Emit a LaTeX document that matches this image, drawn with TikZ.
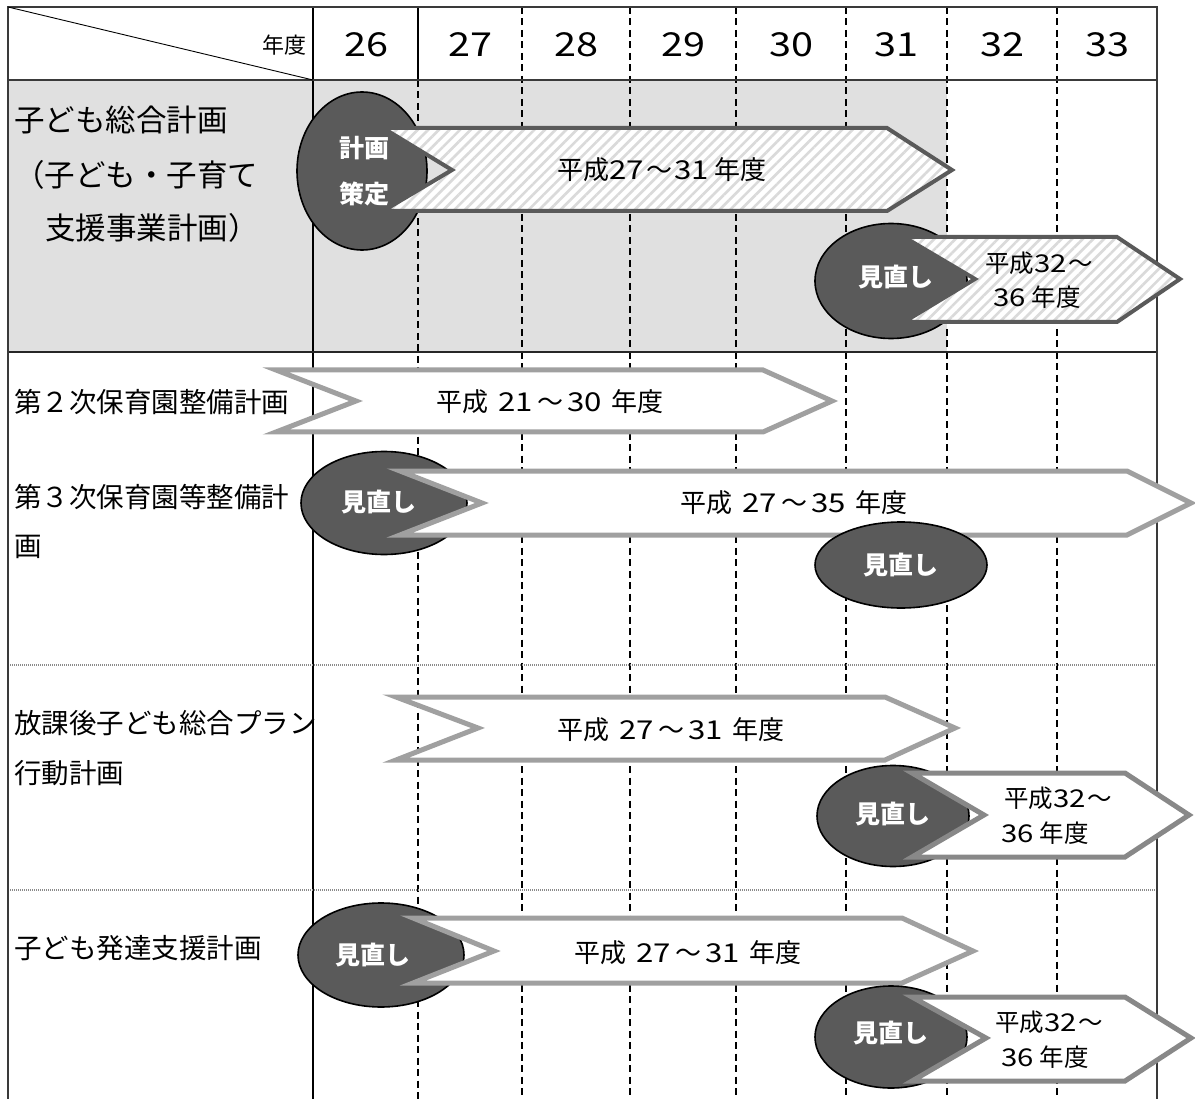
\documentclass[tikz,border=0pt]{standalone}
\usepackage{fontspec}
\setmainfont{Noto Sans CJK JP}
\newfontfamily\digf[FakeStretch=1.2]{Noto Sans CJK JP}
\newcommand\dg[1]{{\digf #1}}
\newcommand\wv{\kern2pt～\kern2pt}
\newcommand\wvw{\kern4pt～\kern4pt}
\usetikzlibrary{shapes.geometric,patterns.meta}
\definecolor{ovalgray}{HTML}{5A5A5A}
\definecolor{bggray}{HTML}{E0E0E0}
\definecolor{framegray}{HTML}{3A3A3A}
\definecolor{darkedge}{HTML}{5A5A5A}
\definecolor{lightedge}{HTML}{A0A0A0}
\definecolor{midedge}{HTML}{888888}
\definecolor{hatchgray}{HTML}{DADADA}
\definecolor{dotgray}{HTML}{8A8A8A}
\tikzset{
  frame/.style={draw=framegray, line width=2.6pt},
  colsolid/.style={draw=black, line width=1.8pt},
  colsep/.style={draw=black, line width=1.8pt, dash pattern=on 7pt off 4.5pt},
  rowdot/.style={draw=dotgray, line width=1.1pt, dash pattern=on 1pt off 1pt},
  oval/.style={ellipse, draw=black, line width=1.6pt, fill=ovalgray, inner sep=0pt, text=white, font=\bfseries\fontsize{25}{28}\selectfont},
  hatcharrow/.style={draw=darkedge, line width=4pt, preaction={fill=white}, preaction={pattern={Lines[angle=45,distance=7.5pt,line width=2.6pt]}, pattern color=hatchgray}},
  lightarrow/.style={draw=lightedge, line width=5pt, fill=white},
  midarrow/.style={draw=midedge, line width=5pt, fill=white},
  lbl/.style={anchor=west, inner sep=0pt, font=\fontsize{27.5}{30}\selectfont},
  bigl/.style={anchor=west, inner sep=0pt, font=\fontsize{30.5}{33}\selectfont},
  yr/.style={inner sep=0pt, font=\fontsize{33}{36}\selectfont\digf},
  atext/.style={inner sep=0pt, font=\fontsize{26}{30}\selectfont},
  stext/.style={inner sep=0pt, font=\fontsize{24.5}{28}\selectfont},
  wtext/.style={inner sep=0pt, text=white, font=\bfseries\fontsize{25}{28}\selectfont},
}
\begin{document}
\begin{tikzpicture}[x=1pt,y=-1pt]
\useasboundingbox (0,0) rectangle (1195,1099);
\fill[white] (0,0) rectangle (1195,1099);
% gray background of first row
\fill[bggray] (8,80) rectangle (947,352);
% column lines
\draw[colsolid] (313,7) -- (313,1099);
\draw[colsolid] (418,7) -- (418,80);
\draw[colsep] (418,80) -- (418,1099);
\foreach \cx in {522,630,736,846,947,1057}
  \draw[colsep] (\cx,7) -- (\cx,1099);
% row lines
\draw[rowdot] (8,665) -- (1157,665);
\draw[rowdot] (8,890) -- (1157,890);
\draw[frame] (8,80) -- (1157,80);
\draw[draw=black!85, line width=2.8pt] (8,352) -- (1157,352);
% frame
\draw[frame] (8,1099) -- (8,7) -- (1157,7) -- (1157,1099);
% header diagonal
\draw[line width=0.9pt] (8,7) -- (313,80);
\node[inner sep=0pt, font=\fontsize{22}{24}\selectfont] (nendo) at (284,45) {年度};
\node[yr] (y26) at (366,45) {26};
\node[yr] (y27) at (470,45) {27};
\node[yr] (y28) at (576,45) {28};
\node[yr] (y29) at (683,45) {29};
\node[yr] (y30) at (791,45) {30};
\node[yr] (y31) at (896,45) {31};
\node[yr] (y32) at (1002,45) {32};
\node[yr] (y33) at (1107,45) {33};
% labels
\node[bigl] (l1a) at (14,120) {子ども総合計画};
\node[bigl] (l1b) at (14,175) {（子ども・子育て};
\node[bigl] (l1c) at (45,228) {支援事業計画）};
\node[lbl] (l2) at (14,402) {第２次保育園整備計画};
\node[lbl] (l3a) at (14,497) {第３次保育園等整備計};
\node[lbl] (l3b) at (14,547) {画};
\node[lbl] (l4a) at (14,723) {放課後子ども総合プラン};
\node[lbl] (l4b) at (14,773) {行動計画};
\node[lbl] (l5) at (14,948) {子ども発達支援計画};
% ---- row 1
\node[oval, minimum width=130pt, minimum height=158pt] (e1) at (362,171) {};
\draw[hatcharrow] (383,128) -- (452,170) -- (383,211) -- (887,211) -- (952,170) -- (887,128) -- cycle;
\node[wtext] (e1t) at (364,148) {計画};
\node[wtext] (e1u) at (364,194) {策定};
\node[atext] (t1) at (662,170) {平成\dg{27}\wv\dg{31}\hspace{6pt}年度};
\node[oval, minimum width=152pt, minimum height=115pt] (e2) at (891,281) {};
\node[wtext] (e2t) at (896,277) {見直し};
\draw[hatcharrow] (904,237) -- (975,279) -- (904,322) -- (1117,322) -- (1180,279) -- (1117,237) -- cycle;
\node[stext] (t1b) at (1039,263) {平成\dg{32}\kern1pt～};
\node[stext] (t1c) at (1037,297) {\dg{36}\hspace{6pt}年度};
% ---- row 2
\draw[lightarrow] (276,370) -- (356,401) -- (276,432) -- (763,432) -- (832,401) -- (763,370) -- cycle;
\node[atext] (t2) at (550,402) {平成\hspace{10pt}\dg{21}\wvw\dg{30}\hspace{10pt}年度};
% ---- row 3
\node[oval, minimum width=166pt, minimum height=103pt] (e3) at (384,503) {};
\node[wtext] (e3t) at (379,502) {見直し};
\draw[lightarrow] (400,471) -- (482,503) -- (400,535) -- (1127,535) -- (1191,503) -- (1127,471) -- cycle;
\node[atext] (t3) at (794,503) {平成\hspace{10pt}\dg{27}\wvw\dg{35}\hspace{10pt}年度};
\node[oval, minimum width=172pt, minimum height=86pt] (e4) at (901,565) {見直し};
% ---- row 4
\draw[lightarrow] (396,697) -- (478,728) -- (396,760) -- (885,760) -- (955,728) -- (885,697) -- cycle;
\node[atext] (t4) at (671,730) {平成\hspace{10pt}\dg{27}\wvw\dg{31}\hspace{10pt}年度};
\node[oval, minimum width=152pt, minimum height=101pt] (e5) at (893,816) {};
\node[wtext] (e5t) at (893,814) {見直し};
\draw[midarrow] (912,773) -- (984,815) -- (912,857) -- (1125,857) -- (1189,815) -- (1125,773) -- cycle;
\node[stext] (t4b) at (1058,798) {平成\dg{32}\kern1pt～};
\node[stext] (t4c) at (1045,833) {\dg{36}\hspace{6pt}年度};
% ---- row 5
\node[oval, minimum width=166pt, minimum height=104pt] (e6) at (381,955) {};
\node[wtext] (e6t) at (373,955) {見直し};
\draw[lightarrow] (413,918) -- (494,951) -- (413,983) -- (902,983) -- (973,951) -- (902,918) -- cycle;
\node[atext] (t5) at (688,953) {平成\hspace{10pt}\dg{27}\wvw\dg{31}\hspace{10pt}年度};
\node[oval, minimum width=152pt, minimum height=102pt] (e7) at (891,1037) {};
\node[wtext] (e7t) at (891,1033) {見直し};
\draw[midarrow] (912,997) -- (986,1038) -- (912,1081) -- (1125,1081) -- (1191,1038) -- (1125,997) -- cycle;
\node[stext] (t5b) at (1049,1022) {平成\dg{32}\kern1pt～};
\node[stext] (t5c) at (1045,1057) {\dg{36}\hspace{6pt}年度};
\end{tikzpicture}
\end{document}
